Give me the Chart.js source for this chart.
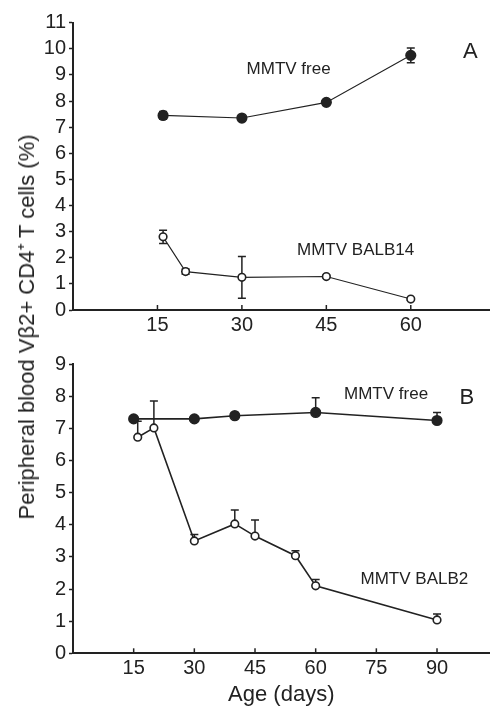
<!DOCTYPE html>
<html>
<head>
<meta charset="utf-8">
<script src="https://cdn.jsdelivr.net/npm/chart.js@4.4.1/dist/chart.umd.min.js"></script>
<style>
  body { margin: 0; background: #fff; }
  #wrap { position: relative; width: 496px; height: 708px; overflow: hidden; }
  canvas { position: absolute; left: 0; }
  #chartA { top: 0; }
  #chartB { top: 340px; }
  #ytitle {
    position: absolute; left: 25px; top: 327px;
    transform: translate(-50%, -50%) rotate(-90deg);
    white-space: nowrap; font: 22px "Liberation Sans", Arial, sans-serif; color: #222;
  }
</style>
</head>
<body>
<div id="wrap">
  <canvas id="chartA" width="496" height="340"></canvas>
  <canvas id="chartB" width="496" height="368"></canvas>
  <div id="ytitle">Peripheral blood Vβ2+ CD4⁺ T cells (%)</div>
</div>
<script>
// Panel A data
const daysFreeA = [16, 30, 45, 60];
const freeA = [7.45, 7.35, 7.95, 9.75];
const freeAErr = [0.15, 0.05, 0.08, 0.28];
const daysBalb14 = [16, 20, 30, 45, 60];
const balb14 = [2.8, 1.47, 1.25, 1.28, 0.42];
const balb14Err = [0.25, 0.1, 0.8, 0.05, 0.05];

// Panel B data
const daysFreeB = [15, 30, 40, 60, 90];
const freeB = [7.3, 7.3, 7.4, 7.5, 7.25];
const freeBErr = [0.05, 0.05, 0.1, 0.46, 0.25];
const daysBalb2 = [16, 20, 30, 40, 45, 55, 60, 90];
const balb2 = [6.73, 7.02, 3.5, 4.03, 3.65, 3.04, 2.1, 1.04];
const balb2Err = [0.5, 0.84, 0.2, 0.43, 0.5, 0.15, 0.2, 0.18];

// ticks
const xTicksA = [15, 30, 45, 60];
const xTicksB = [15, 30, 45, 60, 75, 90];

const INK = '#222';
const FONT = '"Liberation Sans", Arial, sans-serif';

function pts(xs, ys) {
  return xs.map((x, i) => ({ x: x, y: ys[i] }));
}

function series(xs, ys, errs, filled, lw) {
  return {
    data: pts(xs, ys),
    errors: errs,
    showLine: true,
    borderColor: INK,
    borderWidth: lw,
    pointRadius: filled ? 4.8 : 3.8,
    pointBorderWidth: 1.6,
    pointBorderColor: INK,
    pointBackgroundColor: filled ? INK : '#fff'
  };
}

// error bars drawn under the markers
const errorBars = {
  id: 'errorBars',
  beforeDatasetsDraw(chart, args, opts) {
    const ctx = chart.ctx;
    const xs = chart.scales.x, ys = chart.scales.y;
    ctx.save();
    ctx.strokeStyle = INK;
    ctx.lineWidth = 1.5;
    chart.data.datasets.forEach((ds) => {
      ds.data.forEach((p, i) => {
        const e = ds.errors[i];
        const px = xs.getPixelForValue(p.x);
        const top = ys.getPixelForValue(p.y + e);
        const bot = opts.upperOnly ? ys.getPixelForValue(p.y) : ys.getPixelForValue(p.y - e);
        ctx.beginPath();
        ctx.moveTo(px, top); ctx.lineTo(px, bot);
        ctx.moveTo(px - 4, top); ctx.lineTo(px + 4, top);
        if (!opts.upperOnly) { ctx.moveTo(px - 4, bot); ctx.lineTo(px + 4, bot); }
        ctx.stroke();
      });
    });
    ctx.restore();
  }
};

// small inward ticks on the x axis + text labels
const extras = {
  id: 'extras',
  afterDraw(chart, args, opts) {
    const ctx = chart.ctx;
    const xs = chart.scales.x, ys = chart.scales.y;
    ctx.save();
    ctx.strokeStyle = INK;
    ctx.lineWidth = 1.5;
    opts.xticks.forEach((v) => {
      const px = xs.getPixelForValue(v);
      ctx.beginPath();
      ctx.moveTo(px, chart.chartArea.bottom);
      ctx.lineTo(px, chart.chartArea.bottom - 5);
      ctx.stroke();
    });
    ctx.fillStyle = INK;
    ctx.textAlign = 'center';
    ctx.textBaseline = 'middle';
    opts.labels.forEach((l) => {
      ctx.font = l.size + 'px ' + FONT;
      ctx.fillText(l.text, xs.getPixelForValue(l.x), ys.getPixelForValue(l.y));
    });
    ctx.restore();
  }
};

function makeChart(id, datasets, cfg) {
  return new Chart(document.getElementById(id), {
    type: 'scatter',
    data: { datasets: datasets },
    options: {
      responsive: false,
      animation: false,
      layout: { padding: { top: cfg.top, left: 0, right: 0, bottom: 0 } },
      plugins: {
        legend: { display: false },
        tooltip: { enabled: false },
        errorBars: { upperOnly: cfg.upperOnly },
        extras: { xticks: cfg.xticks, labels: cfg.labels }
      },
      scales: {
        x: {
          type: 'linear', min: 0, max: cfg.xmax,
          afterFit: (s) => { s.height = cfg.xh; },
          afterBuildTicks: (s) => { s.ticks = cfg.xticks.map((v) => ({ value: v })); },
          ticks: { autoSkip: false, maxRotation: 0, padding: 3, color: INK, font: { family: FONT, size: 20 } },
          grid: { drawOnChartArea: false, drawTicks: false },
          border: { color: INK, width: 2 },
          title: cfg.xtitle ? { display: true, text: cfg.xtitle, color: INK, padding: 0, font: { family: FONT, size: 22 } } : { display: false }
        },
        y: {
          min: 0, max: cfg.ymax,
          afterFit: (s) => { s.width = 73; },
          ticks: { stepSize: 1, autoSkip: false, padding: 3, color: INK, font: { family: FONT, size: 20 } },
          grid: { drawOnChartArea: false, tickLength: 4, tickColor: INK, tickWidth: 1.5 },
          border: { color: INK, width: 2 }
        }
      }
    },
    plugins: [errorBars, extras]
  });
}

makeChart('chartA', [
  series(daysFreeA, freeA, freeAErr, true, 1.1),
  series(daysBalb14, balb14, balb14Err, false, 1.1)
], {
  top: 22.7, xmax: 74, xh: 30, ymax: 11, upperOnly: false, xticks: xTicksA,
  labels: [
    { text: 'MMTV free', x: 38.3, y: 9.23, size: 17 },
    { text: 'MMTV BALB14', x: 50.2, y: 2.3, size: 17 },
    { text: 'A', x: 70.6, y: 9.88, size: 22 }
  ]
});

makeChart('chartB', [
  series(daysFreeB, freeB, freeBErr, true, 1.6),
  series(daysBalb2, balb2, balb2Err, false, 1.6)
], {
  top: 24.3, xmax: 103, xh: 54.7, ymax: 9, upperOnly: true, xticks: xTicksB, xtitle: 'Age (days)',
  labels: [
    { text: 'MMTV free', x: 77.4, y: 8.05, size: 17 },
    { text: 'MMTV BALB2', x: 84.4, y: 2.31, size: 17 },
    { text: 'B', x: 97.4, y: 7.95, size: 22 }
  ]
});
</script>
</body>
</html>
